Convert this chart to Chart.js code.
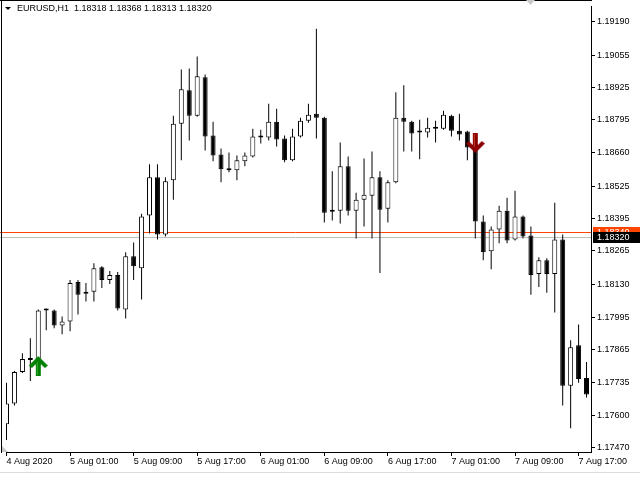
<!DOCTYPE html>
<html>
<head>
<meta charset="utf-8">
<title>EURUSD,H1</title>
<script src="https://cdn.jsdelivr.net/npm/chart.js@4.4.1/dist/chart.umd.min.js"></script>
<style>
  html, body { margin: 0; padding: 0; background: #fff; }
  #chart { display: block; }
</style>
</head>
<body>
<canvas id="chart" width="640" height="480"></canvas>
<script>
// EURUSD H1 – bars from 4 Aug 2020 17:00 to 7 Aug 2020 18:00
const symbolTitle = 'EURUSD,H1';
const lastQuote = ['1.18318', '1.18368', '1.18313', '1.18320'];

const opens = [
  1.17565, 1.17649, 1.17776, 1.17824, 1.17828, 1.18024, 1.18024, 1.17964, 1.17980, 1.18139,
  1.18096, 1.18100, 1.18199, 1.18147, 1.18167, 1.18028, 1.18243, 1.18195, 1.18407, 1.18562,
  1.18331, 1.18550, 1.18778, 1.18913, 1.18810, 1.18965, 1.18730, 1.18654, 1.18598, 1.18590,
  1.18626, 1.18646, 1.18726, 1.18722, 1.18786, 1.18718, 1.18630, 1.18726, 1.18790, 1.18818,
  1.18802, 1.18427, 1.18427, 1.18606, 1.18427, 1.18471, 1.18487, 1.18562, 1.18435, 1.18542,
  1.18802, 1.18786, 1.18746, 1.18742, 1.18758, 1.18758, 1.18810, 1.18750, 1.18746, 1.18682,
  1.18383, 1.18263, 1.18351, 1.18427, 1.18311, 1.18403, 1.18327, 1.18171, 1.18227, 1.18171,
  1.18311, 1.17720, 1.17884, 1.17752
];
const highs = [
  1.17732, 1.17780, 1.17852, 1.17912, 1.18028, 1.18032, 1.18028, 1.18000, 1.18147, 1.18147,
  1.18135, 1.18215, 1.18203, 1.18183, 1.18179, 1.18259, 1.18299, 1.18415, 1.18614, 1.18614,
  1.18562, 1.18810, 1.18997, 1.19001, 1.19049, 1.18977, 1.18786, 1.18678, 1.18662, 1.18650,
  1.18662, 1.18758, 1.18754, 1.18858, 1.18838, 1.18730, 1.18758, 1.18802, 1.18858, 1.19161,
  1.18806, 1.18586, 1.18702, 1.18646, 1.18499, 1.18638, 1.18666, 1.18586, 1.18550, 1.18905,
  1.18933, 1.18790, 1.18794, 1.18802, 1.18790, 1.18830, 1.18814, 1.18818, 1.18750, 1.18686,
  1.18407, 1.18363, 1.18447, 1.18479, 1.18507, 1.18407, 1.18363, 1.18239, 1.18235, 1.18459,
  1.18331, 1.17904, 1.17968, 1.17816
];
const lows = [
  1.17501, 1.17641, 1.17772, 1.17740, 1.17812, 1.17944, 1.17952, 1.17928, 1.17940, 1.18008,
  1.18060, 1.18060, 1.18115, 1.18131, 1.18024, 1.17992, 1.18147, 1.18068, 1.18335, 1.18311,
  1.18323, 1.18471, 1.18630, 1.18710, 1.18806, 1.18670, 1.18626, 1.18542, 1.18582, 1.18550,
  1.18606, 1.18642, 1.18698, 1.18710, 1.18686, 1.18622, 1.18626, 1.18722, 1.18782, 1.18718,
  1.18379, 1.18387, 1.18375, 1.18407, 1.18315, 1.18363, 1.18315, 1.18175, 1.18379, 1.18538,
  1.18666, 1.18666, 1.18634, 1.18722, 1.18702, 1.18754, 1.18726, 1.18710, 1.18630, 1.18315,
  1.18227, 1.18191, 1.18295, 1.18295, 1.18307, 1.18315, 1.18088, 1.18119, 1.18096, 1.18016,
  1.17641, 1.17549, 1.17732, 1.17673
];
const closes = [
  1.17649, 1.17776, 1.17828, 1.17826, 1.18024, 1.18028, 1.17964, 1.17980, 1.18135, 1.18088,
  1.18092, 1.18195, 1.18147, 1.18167, 1.18032, 1.18243, 1.18203, 1.18403, 1.18562, 1.18331,
  1.18546, 1.18778, 1.18917, 1.18810, 1.18969, 1.18726, 1.18650, 1.18594, 1.18590, 1.18630,
  1.18650, 1.18726, 1.18722, 1.18786, 1.18714, 1.18630, 1.18726, 1.18790, 1.18814, 1.18802,
  1.18419, 1.18423, 1.18606, 1.18427, 1.18471, 1.18491, 1.18562, 1.18431, 1.18542, 1.18802,
  1.18786, 1.18738, 1.18742, 1.18762, 1.18762, 1.18814, 1.18750, 1.18734, 1.18682, 1.18383,
  1.18259, 1.18351, 1.18427, 1.18307, 1.18403, 1.18323, 1.18167, 1.18227, 1.18171, 1.18311,
  1.17720, 1.17876, 1.17748, 1.17685
];

// one time label every 8 bars
const timeLabels = ['4 Aug 2020', '5 Aug 01:00', '5 Aug 09:00', '5 Aug 17:00', '6 Aug 01:00',
  '6 Aug 09:00', '6 Aug 17:00', '7 Aug 01:00', '7 Aug 09:00', '7 Aug 17:00'];
const labelEvery = 8;

const priceTicks = [1.19190, 1.19055, 1.18925, 1.18795, 1.18660, 1.18525, 1.18395,
  1.18265, 1.18130, 1.17995, 1.17865, 1.17735, 1.17600, 1.17470];
const priceMin = 1.17453;
const priceMax = 1.19253;

const bidPrice = 1.18320;
const askPrice = 1.18340;

// arrow signals: bar index + price
const buySignals = [{ bar: 4, price: 1.17800 }];
const sellSignals = [{ bar: 59, price: 1.18700 }];

Chart.defaults.font.family = '"Liberation Sans", Arial, sans-serif';
Chart.defaults.font.size = 9;
Chart.defaults.color = '#000';

function makeArrow(color, shine, up) {
  const c = document.createElement('canvas');
  c.width = 19; c.height = 20;
  const g = c.getContext('2d');
  const pts = [[9.5, 0], [19, 9.5], [16, 12], [12, 8], [12, 20], [7, 20], [7, 8], [3, 12], [0, 9.5]];
  const fy = y => up ? y : 20 - y;
  g.beginPath();
  pts.forEach(([x, y], i) => {
    if (i) g.lineTo(x, fy(y)); else g.moveTo(x, fy(y));
  });
  g.closePath();
  g.fillStyle = color;
  g.fill();
  // light streak on the stem
  g.fillStyle = shine;
  g.fillRect(8, Math.min(fy(6), fy(19)), 1, 13);
  return c;
}

const bars = opens.map((_, i) => i);
const isBull = i => closes[i] >= opens[i];

// bid/ask lines, frame, header and price tags
const mtDecor = {
  id: 'mtDecor',
  beforeDatasetsDraw(chart) {
    const { ctx, chartArea: a, scales: { y } } = chart;
    ctx.save();
    ctx.lineWidth = 1;
    [[askPrice, '#ff4500'], [bidPrice, '#c0c0c0']].forEach(([p, col]) => {
      const py = Math.round(y.getPixelForValue(p)) + 0.5;
      ctx.strokeStyle = col;
      ctx.beginPath();
      ctx.moveTo(0, py);
      ctx.lineTo(a.right, py);
      ctx.stroke();
    });
    ctx.restore();
  },
  afterDraw(chart) {
    const { ctx, chartArea: a, scales: { y } } = chart;
    ctx.save();
    ctx.strokeStyle = '#000';
    ctx.lineWidth = 1;
    ctx.beginPath();
    ctx.moveTo(0, 0.5); ctx.lineTo(a.right + 1, 0.5);
    ctx.moveTo(1.5, 0); ctx.lineTo(1.5, a.bottom + 1);
    ctx.stroke();

    ctx.fillStyle = '#dcdcdc';
    ctx.fillRect(0, 472, chart.width, 1);

    // header
    ctx.fillStyle = '#000';
    ctx.beginPath();
    ctx.moveTo(5, 7); ctx.lineTo(11, 7); ctx.lineTo(8, 10);
    ctx.closePath();
    ctx.fill();
    ctx.font = '9px "Liberation Sans"';
    ctx.textBaseline = 'middle';
    ctx.textAlign = 'left';
    ctx.fillText(symbolTitle + '  ' + lastQuote.join(' '), 17, 8.5);

    // chart shift marker + corner marker
    ctx.fillStyle = '#c8c8c8';
    ctx.beginPath();
    ctx.moveTo(526, 0); ctx.lineTo(535, 0); ctx.lineTo(530.5, 5);
    ctx.closePath();
    ctx.fill();
    ctx.beginPath();
    ctx.moveTo(2, 446); ctx.lineTo(2, 452); ctx.lineTo(8, 452);
    ctx.closePath();
    ctx.fill();

    // price tags on the axis
    const tag = (p, bg) => {
      const py = Math.round(y.getPixelForValue(p));
      ctx.fillStyle = bg;
      ctx.fillRect(a.right + 2, py - 5, chart.width - a.right - 2, 11);
      ctx.fillStyle = '#fff';
      ctx.fillText(p.toFixed(5), a.right + 6, py + 0.5);
    };
    tag(askPrice, '#ff4500');
    tag(bidPrice, '#000');
    ctx.restore();
  }
};

new Chart(document.getElementById('chart'), {
  type: 'bar',
  data: {
    datasets: [
      {
        type: 'scatter',
        label: 'buy',
        data: buySignals.map(s => ({ x: s.bar, y: s.price })),
        pointStyle: makeArrow('#008000', '#3aa83a', true),
        pointRadius: 5,
        order: 0
      },
      {
        type: 'scatter',
        label: 'sell',
        data: sellSignals.map(s => ({ x: s.bar, y: s.price })),
        pointStyle: makeArrow('#8b0000', '#c04020', false),
        pointRadius: 5,
        order: 0
      },
      {
        label: 'body',
        data: bars.map(i => ({ x: i, y: [opens[i], closes[i]] })),
        backgroundColor: bars.map(i => isBull(i) ? '#fff' : '#000'),
        borderColor: '#000',
        borderWidth: 1,
        borderSkipped: false,
        barThickness: 5,
        minBarLength: 2,
        inflateAmount: 0,
        grouped: false,
        order: 1
      },
      {
        label: 'wick',
        data: bars.map(i => ({ x: i, y: [lows[i], highs[i]] })),
        backgroundColor: '#000',
        borderWidth: 0,
        barThickness: 1,
        inflateAmount: 0,
        grouped: false,
        order: 2
      }
    ]
  },
  options: {
    responsive: false,
    animation: false,
    events: [],
    layout: { padding: { left: 2, top: 1, right: 0, bottom: 0 } },
    plugins: {
      legend: { display: false },
      tooltip: { enabled: false }
    },
    scales: {
      x: {
        type: 'linear',
        offset: false,
        min: -0.0625,
        max: 73.5625,
        grid: { display: true, offset: false, drawOnChartArea: false, drawTicks: true, tickLength: 4, color: '#000' },
        border: { display: true, color: '#000' },
        ticks: {
          autoSkip: false,
          maxRotation: 0,
          align: 'start',
          padding: 0,
          color: '#000',
          callback: v => timeLabels[Math.round(v / labelEvery)]
        },
        afterBuildTicks: s => { s.ticks = timeLabels.map((_, k) => ({ value: k * labelEvery })); },
        afterFit: s => { s.height = 28; s.paddingLeft = 0; s.paddingRight = 0; }
      },
      y: {
        type: 'linear',
        position: 'right',
        min: priceMin,
        max: priceMax,
        beginAtZero: false,
        grid: { display: true, drawOnChartArea: false, drawTicks: true, tickLength: 4, color: '#000' },
        border: { display: true, color: '#000' },
        ticks: {
          autoSkip: false,
          padding: 2,
          color: '#000',
          callback: v => Number(v).toFixed(5)
        },
        afterBuildTicks: s => { s.ticks = priceTicks.map(v => ({ value: v })); },
        afterFit: s => { s.width = 49; s.paddingTop = 0; s.paddingBottom = 0; }
      }
    }
  },
  plugins: [mtDecor]
});
</script>
</body>
</html>
